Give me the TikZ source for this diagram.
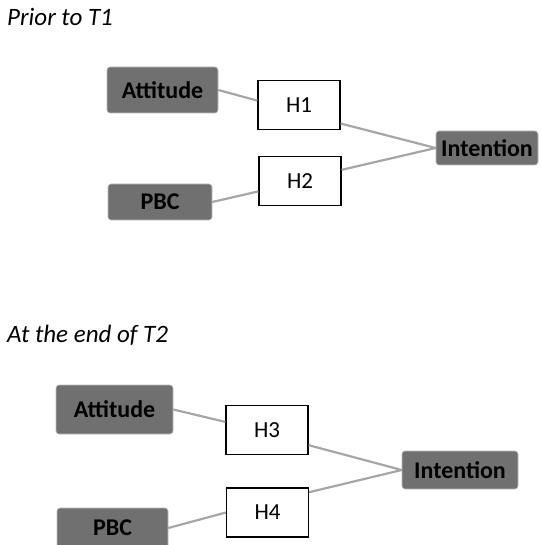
\documentclass[tikz,border=0pt]{standalone}
\usepackage{fontspec}
\setmainfont{Carlito}
\usepackage{tikz}
\tikzset{%
  darkblock/.style={rectangle, draw=black!25, line width=0.6pt, fill=black!56, rounded corners=3pt, font=\fontsize{24}{28}\selectfont\bfseries, text=black, inner sep=0pt},
  hblock/.style={rectangle, draw, line width=1.2pt, fill=white, font=\fontsize{23}{27}\selectfont, inner sep=0pt, minimum width=82pt, minimum height=49pt},
  heading/.style={anchor=west, font=\fontsize{25}{29}\selectfont\itshape, inner sep=0pt},
  link/.style={draw, line width=2.2pt, black!35}}

\begin{document}
\begin{tikzpicture}[x=1pt, y=-1pt]
    \useasboundingbox (0,0) rectangle (541,545);
    % Prior to T1
    \node (title1) [heading] at (7,17) {Prior to T1};
    \node (att1) [darkblock, minimum width=111pt, minimum height=46pt] at (162.5,90) {Attitude};
    \node (pbc1) [darkblock, minimum width=104pt, minimum height=36pt] at (160,202) {PBC};
    \node (h1) [hblock] at (299,105) {H1};
    \node (h2) [hblock] at (300,181) {H2};
    \node (int1) [darkblock, minimum width=102pt, minimum height=34pt] at (487,148) {Intention};
    % At the end of T2
    \node (title2) [heading] at (7,335) {At the end of T2};
    \node (att2) [darkblock, minimum width=117pt, minimum height=49pt] at (114.5,409.5) {Attitude};
    \node (pbc2) [darkblock, minimum width=111pt, minimum height=40pt] at (112.5,528) {PBC};
    \node (h3) [hblock] at (267,430) {H3};
    \node (h4) [hblock] at (267.5,512.5) {H4};
    \node (int2) [darkblock, minimum width=116pt, minimum height=38pt] at (460,470) {Intention};
    % Links
    \draw[link] (att1.east) -- (h1.174);
    \draw[link] (pbc1.east) -- (h2.194);
    \draw[link] (h1.-24) -- (int1.west);
    \draw[link] (h2.15) -- (int1.west);
    \draw[link] (att2.east) -- (h3.169);
    \draw[link] (pbc2.east) -- (h4.west);
    \draw[link] (h3.-20) -- (int2.west);
    \draw[link] (h4.26) -- (int2.west);
\end{tikzpicture}
\end{document}
